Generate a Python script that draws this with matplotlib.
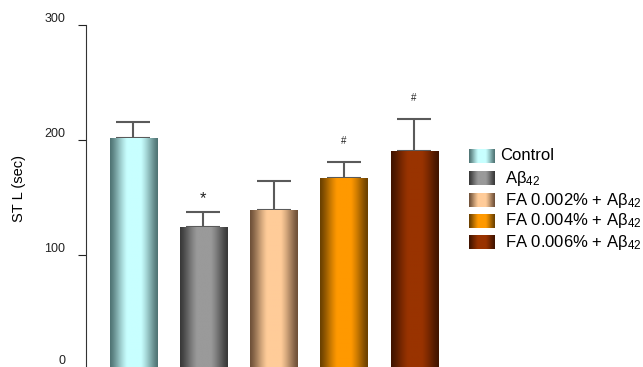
import numpy as np
import matplotlib
matplotlib.use('Agg')
import matplotlib.pyplot as plt
import matplotlib.transforms as mtransforms
from matplotlib.colors import to_rgb

plt.rcParams['font.family'] = ['Liberation Sans', 'DejaVu Sans']
plt.rcParams['mathtext.fontset'] = 'custom'
plt.rcParams['mathtext.rm'] = 'Liberation Sans'
plt.rcParams['mathtext.it'] = 'Liberation Sans:italic'

# Data
groups = ['Control', 'Aβ$_{42}$', 'FA 0.002% + Aβ$_{42}$',
          'FA 0.004% + Aβ$_{42}$', 'FA 0.006% + Aβ$_{42}$']
means = [201.7, 124.6, 139.0, 167.0, 190.4]
errors = [14.0, 12.5, 25.5, 13.5, 27.5]
marks = ['', '*', '', '#', '#']

# edge / centre colours for the shaded bars
edge_colors = ['#4f7373', '#383838', '#6e5038', '#6a4000', '#401400']
center_colors = ['#c8ffff', '#9a9a9a', '#ffcc99', '#ff9900', '#993300']

W, H = 643, 367
fig = plt.figure(figsize=(W / 100, H / 100), dpi=100)

# axes placed in pixel units: left spine at x=86, y=300 at 25px, y=0 at 370px
ax_left, ax_right, ax_top, ax_bottom = 86, 452, 25, 370
ax = fig.add_axes([ax_left / W, (H - ax_bottom) / H,
                   (ax_right - ax_left) / W, (ax_bottom - ax_top) / H])
ax.set_ylim(0, 300)
ax.set_xlim(-0.67, 4.54)


def gradient(edge, center, n=200):
    t = np.linspace(0, 1, n)
    w = np.clip(np.sin(np.pi * t) ** 1.3 * 1.15, 0, 1)
    e = np.array(to_rgb(edge))
    c = np.array(to_rgb(center))
    return (e[None, :] * (1 - w[:, None]) + c[None, :] * w[:, None])[None, :, :]


x = np.arange(len(groups))
bw = 0.67
bars = ax.bar(x, means, width=bw, color='none', edgecolor='none', zorder=2)
for b, ec, cc in zip(bars, edge_colors, center_colors):
    x0 = b.get_x()
    im = ax.imshow(gradient(ec, cc), extent=[x0, x0 + bw, 0, b.get_height()],
                   aspect='auto', zorder=2, interpolation='bilinear')
    im.set_clip_path(b)

eb = ax.errorbar(x, means, yerr=[np.zeros(len(errors)), errors], fmt='none',
                 ecolor='#5a5a5a', elinewidth=1.5, capsize=12, capthick=1.5,
                 zorder=1)
for cap in eb[1]:
    cap.set_color('#222222')

for xi, m, e, s in zip(x, means, errors, marks):
    if s == '*':
        ax.text(xi, m + e + 12, s, ha='center', va='center', fontsize=12,
                color='#222222')
    elif s:
        ax.text(xi, m + e + 19, s, ha='center', va='center', fontsize=7,
                color='#222222')

ax.set_yticks([0, 100, 200, 300])
ax.tick_params(axis='y', direction='out', length=6, width=0.8, labelsize=9,
               pad=9, colors='#222222')
# labels sit a little above their ticks in the reference
for lab in ax.get_yticklabels():
    shift = 10 if lab.get_text() == '0' else 7
    offset = mtransforms.ScaledTranslation(0, shift / 100, fig.dpi_scale_trans)
    lab.set_transform(lab.get_transform() + offset)
ax.set_xticks([])
for sp in ['top', 'right', 'bottom']:
    ax.spines[sp].set_visible(False)
ax.spines['left'].set_color('#333333')
ax.spines['left'].set_linewidth(0.8)
fig.text(19 / W, 1 - 188 / H, 'ST L (sec)', rotation=90, ha='center',
         va='center', fontsize=10.5)

# legend drawn by hand with shaded swatches
lg = fig.add_axes([0, 0, 1, 1])
lg.axis('off')
legend_y = [156, 178, 200, 221, 242]
text_x = [500, 505, 505, 505, 505]
for y, lab, ec, cc, tx in zip(legend_y, groups, edge_colors, center_colors, text_x):
    lg.imshow(gradient(ec, cc), extent=[469, 495, y + 7, y - 7], aspect='auto',
              interpolation='bilinear')
    lg.text(tx, y, lab, ha='left', va='center', fontsize=12)
lg.set_xlim(0, W)
lg.set_ylim(H, 0)

fig.savefig('out.png', dpi=100)
